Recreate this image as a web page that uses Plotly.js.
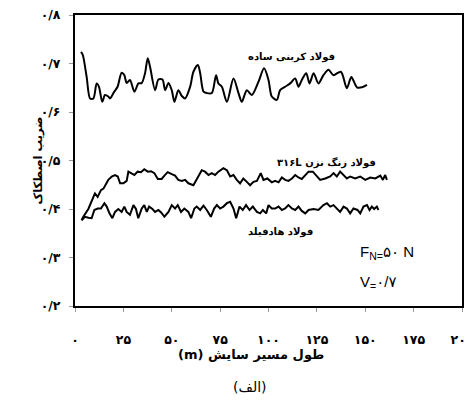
<!DOCTYPE html>
<html>
<head>
<meta charset="utf-8">
<script src="https://cdn.plot.ly/plotly-3.0.1.min.js"></script>
<style>html,body{margin:0;padding:0;background:#fff;}#chart{width:467px;height:406px;}</style>
</head>
<body>
<div id="chart"></div>
<script>
// Carbon steel (فولاد کربنی ساده)
const carbonX = [3.1,4.0,6.0,7.8,9.5,11.2,12.4,14.1,15.5,17.2,18.1,20.3,22.0,24.1,25.5,26.7,28.4,30.7,32.8,34.5,36.2,37.6,38.8,41.4,43.1,45.2,46.6,48.3,50.0,51.4,53.4,55.2,56.9,59.5,61.2,63.5,64.7,66.4,68.1,70.7,72.9,74.1,75.9,78.5,81.9,84.5,86.2,88.8,91.4,94.8,97.7,100,101.7,104.3,106,108.6,111.2,113.8,115.5,117.2,119.5,121.2,123.3,125.8,128.4,131,133.5,137.4,140.5,142.8,145.7,148.3,150.9];
const carbonY = [0.724,0.718,0.673,0.628,0.628,0.659,0.652,0.621,0.635,0.632,0.628,0.642,0.652,0.681,0.676,0.660,0.666,0.642,0.659,0.660,0.680,0.711,0.693,0.645,0.667,0.667,0.645,0.660,0.645,0.621,0.645,0.633,0.628,0.652,0.683,0.697,0.680,0.642,0.639,0.639,0.676,0.659,0.652,0.621,0.669,0.639,0.621,0.645,0.635,0.662,0.690,0.666,0.632,0.625,0.645,0.652,0.659,0.669,0.652,0.666,0.680,0.659,0.680,0.659,0.676,0.687,0.676,0.683,0.649,0.672,0.651,0.651,0.656];

// Stainless steel 316L (فولاد زنگ نزن ۳۱۶L)
const ssX = [3.4,4.3,6.9,8.6,10.3,11.7,13.4,14.7,17.2,19.0,20.7,22.1,23.3,25.0,26.7,27.6,29.0,30.7,32.4,34.1,35.8,37.6,39.3,41.0,42.8,44.8,46.2,47.9,50.0,51.7,53.4,55.2,56.9,58.6,61.2,63.0,65.5,67.2,69.0,70.7,72.4,74.1,76.7,78.5,80.2,81.9,83.6,85.3,87.0,88.8,90.5,92.2,94.0,96.0,97.4,99.4,101.7,103.4,105.2,106.9,108.6,110.3,112.1,113.8,115.5,117.2,119.0,120.7,122.9,125.0,126.7,129.3,131.9,133.6,135.3,137.0,138.8,140.5,142.2,144.8,147.4,150.0,152.6,155.2,157.8,159.1,160.3,161.2];
const ssY = [0.377,0.384,0.400,0.415,0.432,0.425,0.439,0.442,0.460,0.467,0.470,0.467,0.453,0.453,0.458,0.477,0.474,0.470,0.477,0.476,0.482,0.477,0.478,0.474,0.462,0.462,0.469,0.476,0.472,0.469,0.460,0.458,0.460,0.453,0.449,0.462,0.480,0.477,0.470,0.474,0.470,0.477,0.484,0.480,0.467,0.470,0.460,0.453,0.463,0.456,0.449,0.456,0.458,0.474,0.460,0.463,0.455,0.458,0.455,0.465,0.460,0.458,0.463,0.470,0.465,0.462,0.470,0.477,0.477,0.467,0.460,0.463,0.467,0.474,0.467,0.477,0.470,0.463,0.467,0.463,0.467,0.460,0.465,0.463,0.469,0.460,0.470,0.460];

// Hadfield steel (فولاد هادفیلد)
const hadX = [3.4,5.2,6.9,8.6,10.0,11.7,13.4,15.2,16.4,17.8,19.3,20.7,22.4,24.1,25.5,26.7,28.4,30.2,31.5,32.7,34.5,35.8,37.1,38.3,40.0,41.4,43.1,44.5,46.2,48.3,50.0,51.7,53.1,54.8,56.5,58.6,60.0,61.7,62.9,64.7,66.4,68.1,70.2,71.9,73.3,75.0,76.7,78.5,80.2,81.9,83.3,85.0,86.7,88.4,90.2,91.9,94.0,95.7,97.1,98.8,100.0,101.7,103.4,105.2,106.9,108.6,110.3,112.1,113.8,115.5,117.2,119.0,120.7,123.3,125.8,128.4,130.2,131.9,133.6,135.3,137.0,138.8,140.5,142.2,143.9,146.0,147.4,149.1,150.9,152.2,153.4,154.6,156.0,156.8];
const hadY = [0.377,0.384,0.382,0.381,0.398,0.401,0.401,0.412,0.405,0.391,0.381,0.394,0.400,0.394,0.405,0.394,0.388,0.408,0.400,0.381,0.401,0.408,0.394,0.405,0.400,0.394,0.398,0.393,0.384,0.394,0.408,0.401,0.408,0.394,0.401,0.394,0.381,0.401,0.405,0.398,0.407,0.398,0.384,0.401,0.408,0.401,0.405,0.412,0.415,0.401,0.381,0.405,0.398,0.408,0.398,0.405,0.394,0.391,0.398,0.391,0.408,0.401,0.401,0.405,0.398,0.401,0.408,0.401,0.398,0.405,0.396,0.391,0.398,0.400,0.398,0.408,0.412,0.405,0.408,0.401,0.394,0.405,0.401,0.391,0.401,0.398,0.391,0.405,0.408,0.398,0.405,0.400,0.405,0.398];

const xTickVals = [0,25,50,75,100,125,150,175,200];
const xTickText = ['۰','۲۵','۵۰','۷۵','۱۰۰','۱۲۵','۱۵۰','۱۷۵','۲۰۰'];
const yTickVals = [0.2,0.3,0.4,0.5,0.6,0.7,0.8];
const yTickText = ['۰/۲','۰/۳','۰/۴','۰/۵','۰/۶','۰/۷','۰/۸'];

const labelCarbon = 'فولاد کربنی ساده';
const labelSS = 'فولاد زنگ نزن ۳۱۶L';
const labelHad = 'فولاد هادفیلد';
const xTitle = 'طول مسیر سایش (m)';
const yTitle = 'ضریب اصطکاک';
const caption = '(الف)';

// right-to-left embedding so Persian text is laid out as in the original
const rtl = s => '\u202B' + s + '\u202C';

const lineStyle = {color:'#000', width:2};
const traces = [
  {x:carbonX, y:carbonY, mode:'lines', line:Object.assign({shape:'spline', smoothing:0.8}, lineStyle), hoverinfo:'skip'},
  {x:ssX, y:ssY, mode:'lines', line:lineStyle, hoverinfo:'skip'},
  {x:hadX, y:hadY, mode:'lines', line:lineStyle, hoverinfo:'skip'}
];

const fa = 'DejaVu Sans, sans-serif';
const layout = {
  width:467, height:406,
  margin:{l:75, r:5, t:15, b:100},
  paper_bgcolor:'#fff', plot_bgcolor:'#fff',
  showlegend:false,
  xaxis:{range:[0,200], tickvals:xTickVals, ticktext:xTickText, showgrid:false, zeroline:false,
    showline:true, mirror:true, linecolor:'#000', linewidth:2,
    ticks:'outside', ticklen:4, tickcolor:'#999', tickwidth:1, ticklabelstandoff:17,
    ticklabeloverflow:'allow',
    tickfont:{family:fa, size:12.5, color:'#000', weight:'bold'}},
  yaxis:{range:[0.2,0.8], tickvals:yTickVals, ticktext:yTickText, showgrid:false, zeroline:false,
    showline:true, mirror:true, linecolor:'#000', linewidth:2,
    ticks:'outside', ticklen:4, tickcolor:'#999', tickwidth:1, ticklabelstandoff:6,
    ticklabeloverflow:'allow',
    tickfont:{family:fa, size:12.5, color:'#000', weight:'bold'}},
  annotations:[
    {x:111.7, y:0.713, xref:'x', yref:'y', text:'<b>'+rtl(labelCarbon)+'</b>', showarrow:false, font:{family:fa, size:10, color:'#000'}},
    {x:129.8, y:0.495, xref:'x', yref:'y', text:'<b>'+rtl(labelSS)+'</b>', showarrow:false, font:{family:fa, size:10, color:'#000'}},
    {x:106, y:0.353, xref:'x', yref:'y', text:'<b>'+rtl(labelHad)+'</b>', showarrow:false, font:{family:fa, size:10, color:'#000'}},
    {x:146.4, y:0.311, xref:'x', yref:'y', xanchor:'left', text:'F<sub>N=</sub>۵۰ N', showarrow:false, font:{family:'Liberation Sans, DejaVu Sans, sans-serif', size:15, color:'#000'}},
    {x:146.4, y:0.249, xref:'x', yref:'y', xanchor:'left', text:'V<sub>=</sub>۰/۷', showarrow:false, font:{family:'Liberation Sans, DejaVu Sans, sans-serif', size:15, color:'#000'}},
    {x:(251-75)/387, y:(306-364)/291, xref:'paper', yref:'paper', text:'<b>'+rtl(xTitle)+'</b>', showarrow:false, font:{family:fa, size:13, color:'#000'}},
    {x:(250-75)/387, y:(306-397)/291, xref:'paper', yref:'paper', text:rtl(caption), showarrow:false, font:{family:fa, size:14, color:'#000'}},
    {x:(28-75)/387, y:0.5, xref:'paper', yref:'paper', text:'<b>'+rtl(yTitle)+'</b>', textangle:-90, showarrow:false, font:{family:fa, size:11.5, color:'#000'}}
  ]
};
Plotly.newPlot('chart', traces, layout, {staticPlot:true, displayModeBar:false});
</script>
</body>
</html>
